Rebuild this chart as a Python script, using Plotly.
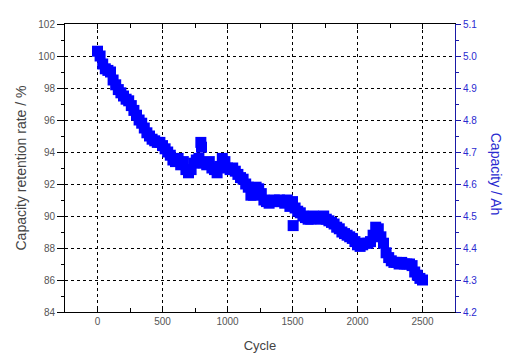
import plotly.graph_objects as go

cycles = [0, 20, 40, 60, 80, 100, 120, 140, 160, 180, 200, 220, 240, 260, 280, 300,
          320, 340, 360, 380, 400, 420, 440, 460, 480, 500, 520, 540, 560, 580, 600,
          620, 640, 660, 680, 700, 720, 740, 760, 780, 795, 800, 820, 840, 860, 880,
          900, 920, 940, 960, 980, 1000, 1020, 1040, 1060, 1080, 1100, 1120, 1140,
          1160, 1180, 1200, 1220, 1240, 1260, 1280, 1300, 1320, 1340, 1360, 1380,
          1400, 1420, 1440, 1460, 1480, 1500, 1505, 1520, 1540, 1560, 1580, 1600,
          1620, 1640, 1660, 1680, 1700, 1720, 1740, 1760, 1780, 1800, 1820, 1840,
          1860, 1880, 1900, 1920, 1940, 1960, 1980, 2000, 2020, 2040, 2060, 2080,
          2100, 2120, 2140, 2160, 2180, 2200, 2220, 2240, 2260, 2280, 2300, 2320,
          2340, 2360, 2380, 2400, 2420, 2440, 2460, 2480, 2500]

retention = [100.3, 100.0, 99.5, 99.2, 99.1, 99.0, 98.5, 98.2, 97.9, 97.7, 97.5, 97.3,
             97.2, 96.9, 96.6, 96.3, 96.0, 95.8, 95.5, 95.2, 95.0, 94.8, 94.7, 94.6,
             94.6, 94.4, 94.2, 94.0, 93.8, 93.5, 93.4, 93.6, 93.2, 93.4, 92.9, 92.7,
             92.9, 93.3, 93.5, 93.6, 94.6, 94.3, 93.3, 93.2, 93.4, 93.0, 92.9, 92.7,
             93.1, 93.6, 93.4, 93.0, 92.9, 93.0, 92.8, 92.6, 92.4, 92.3, 92.0, 91.8,
             91.3, 91.3, 91.8, 91.7, 91.4, 91.0, 90.9, 90.8, 90.9, 91.0, 90.9, 91.0,
             90.9, 90.8, 91.0, 90.6, 90.9, 89.4, 90.5, 90.3, 90.2, 90.0, 89.9, 89.8,
             89.8, 90.0, 89.9, 89.9, 89.8, 90.0, 89.8, 89.7, 89.6, 89.5, 89.3, 89.2,
             89.0, 88.9, 88.8, 88.7, 88.6, 88.4, 88.2, 88.1, 88.2, 88.3, 88.3, 88.4,
             88.8, 89.3, 89.2, 88.7, 88.3, 87.7, 87.4, 87.2, 87.1, 87.1, 87.0, 87.1,
             87.0, 87.0, 87.0, 86.9, 86.5, 86.3, 86.1, 86.0]

nominal_capacity = 5.0
capacity = [r * nominal_capacity / 100 for r in retention]

FONT = "Liberation Sans, Arial, sans-serif"
BLUE = "#0000FF"
NAVY = "#1a1aa6"
LABEL_BLUE = "#2a2ad0"

fig = go.Figure()
fig.add_trace(go.Scatter(
    x=cycles, y=retention, mode="markers",
    marker=dict(symbol="square", size=11, color=BLUE, line=dict(width=0)),
    showlegend=False, yaxis="y"))
fig.add_trace(go.Scatter(
    x=cycles, y=capacity, mode="markers",
    marker=dict(symbol="square", size=11, color=BLUE, opacity=0),
    showlegend=False, hoverinfo="skip", yaxis="y2"))

fig.update_layout(
    width=521, height=362,
    margin=dict(l=65, r=66, t=24, b=48),
    paper_bgcolor="white", plot_bgcolor="white",
    font=dict(family=FONT, size=10, color="#555555"),
    xaxis=dict(
        range=[-250, 2750], dtick=500, tick0=0,
        showline=True, linecolor="black", linewidth=1, mirror="ticks",
        ticks="inside", ticklen=5, tickcolor="black",
        minor=dict(dtick=250, tick0=0, ticks="inside", ticklen=4, tickcolor="black", showgrid=False),
        showgrid=True, gridcolor="black", gridwidth=1, griddash="3px,3px",
        zeroline=False,
        tickfont=dict(size=10, color="#555555"),
        title=dict(text="Cycle", font=dict(size=13, color="#444444"), standoff=14),
    ),
    yaxis=dict(
        range=[84, 102], dtick=2, tick0=84,
        showline=True, linecolor="black", linewidth=1, mirror=False,
        ticks="outside", ticklen=7, tickcolor="black",
        minor=dict(dtick=1, tick0=84, ticks="outside", ticklen=3, tickcolor="black", showgrid=False),
        showgrid=True, gridcolor="black", gridwidth=1, griddash="3px,3px",
        zeroline=False,
        tickfont=dict(size=10, color="#555555"),
        title=dict(text="Capacity retention rate / %", font=dict(size=14, color="#444444"), standoff=8),
    ),
    yaxis2=dict(
        range=[4.2, 5.1], dtick=0.1, tick0=4.2, tickformat=".1f",
        overlaying="y", side="right", anchor="x",
        showline=True, linecolor=NAVY, linewidth=1,
        ticks="outside", ticklen=5, tickcolor=NAVY,
        minor=dict(dtick=0.05, ticks="outside", ticklen=3, tickcolor=NAVY, showgrid=False),
        showgrid=False, zeroline=False,
        tickfont=dict(size=10, color=LABEL_BLUE),
    ),
    annotations=[dict(
        text="Capacity / Ah", textangle=90, showarrow=False,
        xref="paper", yref="paper", x=1, y=0.48, xanchor="center", yanchor="middle",
        xshift=41, font=dict(family=FONT, size=14, color=LABEL_BLUE))],
)

fig.write_html("out.html")
